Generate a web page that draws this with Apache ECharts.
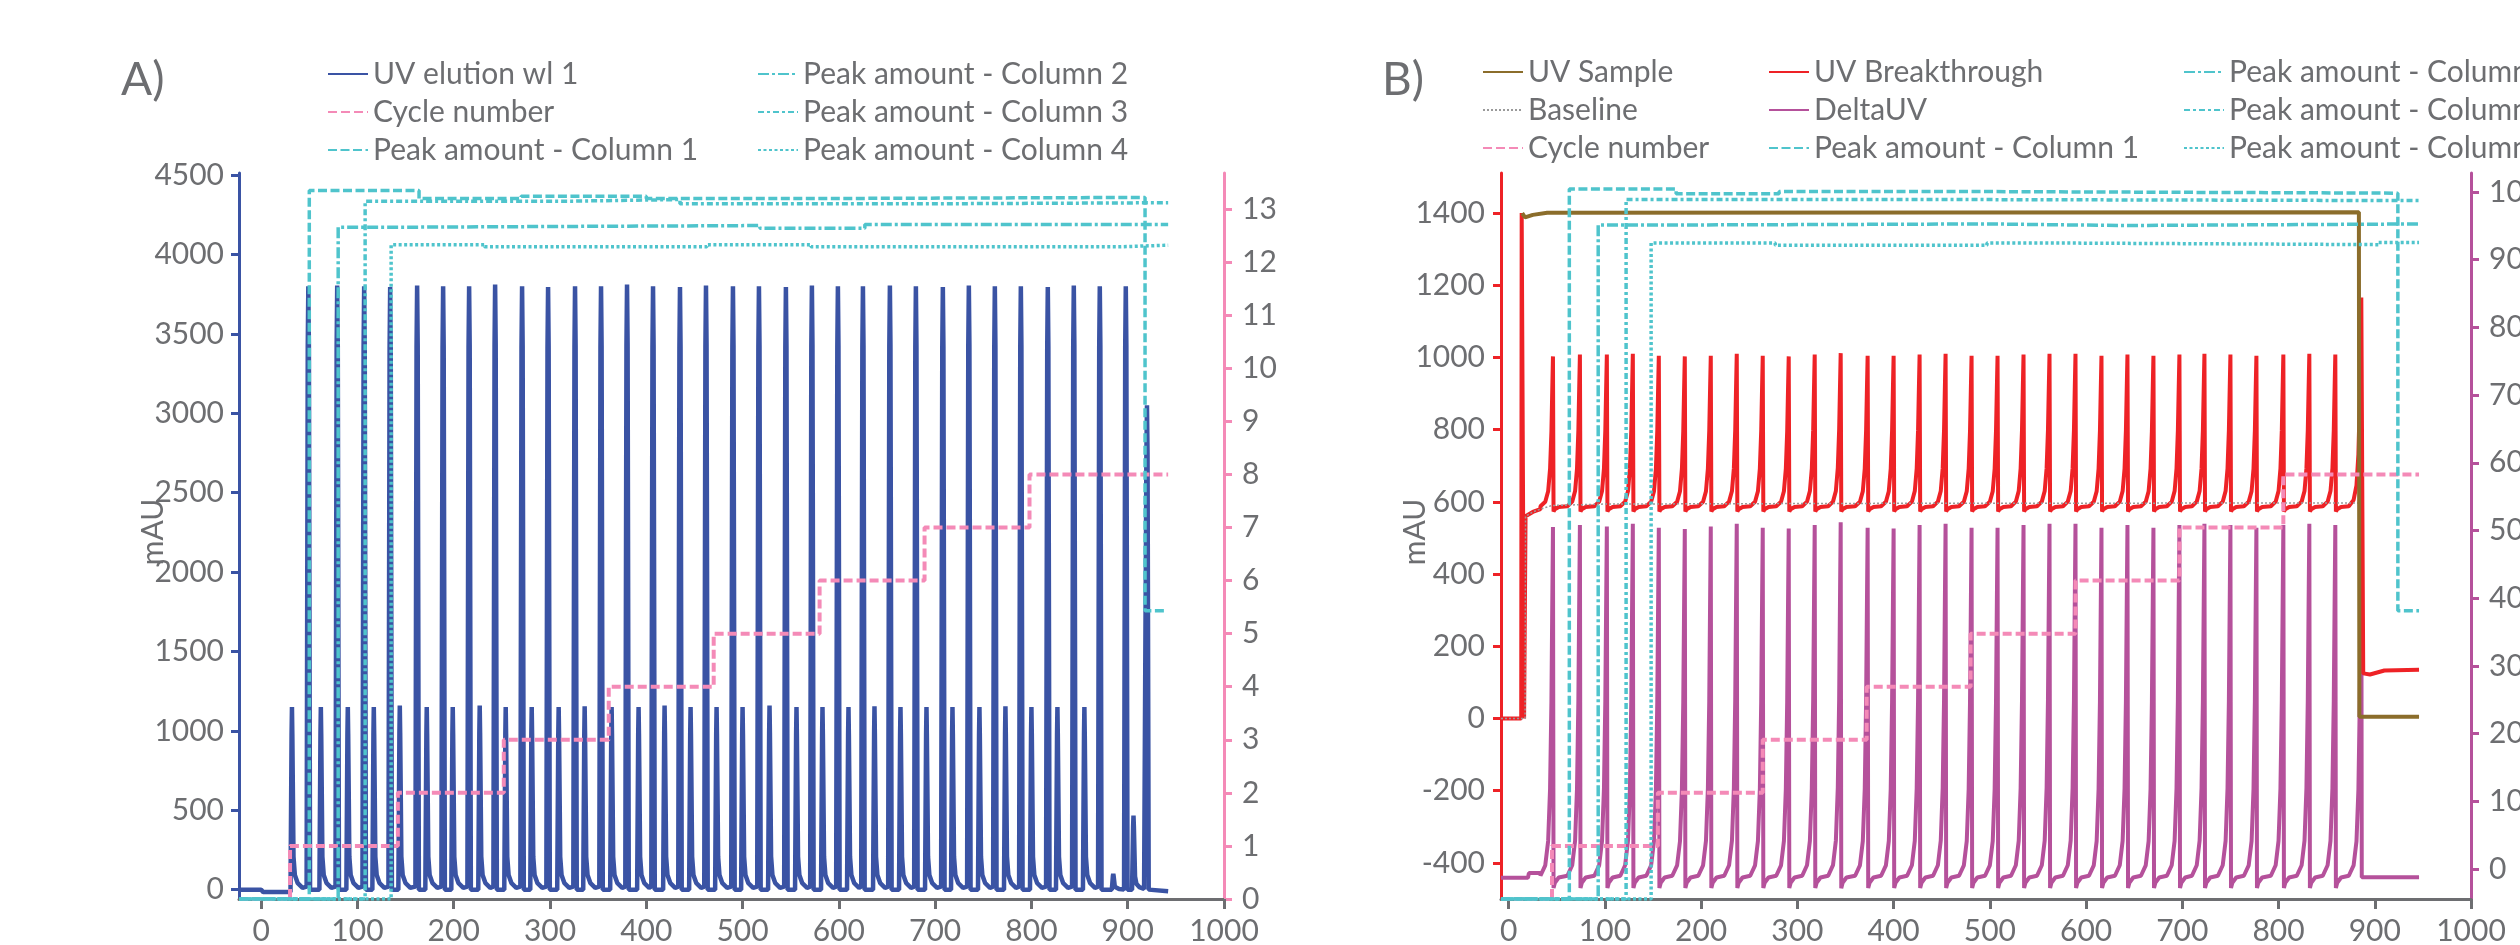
<!DOCTYPE html>
<html>
<head>
<meta charset="utf-8">
<script src="https://cdn.jsdelivr.net/npm/echarts@6/dist/echarts.min.js"></script>
<style>
  html, body { margin: 0; padding: 0; background: #fff; }
  #chart { width: 2520px; height: 945px; }
</style>
</head>
<body>
<div id="chart"></div>
<script>
// ---- Panel A: UV elution ----
var uvBigTimes = [49, 79, 107, 134, 162, 189, 216, 243, 271, 298, 326, 353, 380, 407, 435, 462,
  490, 517, 545, 572, 599, 625, 653, 680, 708, 735, 762, 789, 817, 844, 871, 898, 920];
var uvBigHeights = [3800, 3805, 3800, 3795, 3805, 3800, 3800, 3810, 3800, 3795, 3800, 3800, 3810, 3800, 3795, 3805,
  3800, 3800, 3795, 3805, 3800, 3800, 3805, 3800, 3795, 3805, 3800, 3800, 3795, 3805, 3800, 3800, 3050];
var uvSmallTimes = [32, 62, 90, 117, 144, 172, 199, 227, 254, 281, 309, 336, 364, 392, 419, 446,
  473, 500, 528, 556, 583, 610, 637, 664, 691, 718, 746, 773, 800, 827, 855, 885, 906];
var uvSmallHeights = [1150, 1150, 1150, 1150, 1160, 1150, 1150, 1160, 1150, 1150, 1150, 1155, 1150, 1150, 1160, 1150,
  1150, 1150, 1160, 1150, 1150, 1150, 1155, 1150, 1150, 1150, 1150, 1155, 1150, 1150, 1150, 100, 467];
var uvHead = [[-23, 0], [0, 0], [2, -15], [30.5, -15]];
var uvTail = [[921.8, -10], [942, -10]];

var cycleA = [[-23, 0], [30, 1], [142, 2], [252, 3], [361, 4], [470, 5], [580, 6], [689, 7], [798, 8], [942, 8]];
var peakA1 = [[-23, 0], [50, 13.35], [164, 13.2], [270, 13.24], [400, 13.2], [600, 13.22], [918, 5.43], [941, 5.43]];
var peakA2 = [[-23, 0], [80, 12.66], [162, 12.69], [518, 12.64], [627, 12.71], [942, 12.71]];
var peakA3 = [[-23, 0], [108, 13.15], [325, 13.18], [435, 13.1], [700, 13.12], [942, 13.12]];
var peakA4 = [[-23, 0], [135, 12.33], [232, 12.29], [463, 12.33], [571, 12.29], [893, 12.32], [942, 12.32]];

// ---- Panel B: breakthrough ----
var bTimes = [46, 74, 102, 129, 156, 183, 210, 237, 264, 291, 318, 345, 373, 400, 427, 454,
  481, 508, 535, 562, 589, 616, 643, 670, 697, 723, 750, 777, 805, 832, 859, 886];
var breakHeights = [1003, 1008, 1008, 1010, 1005, 1003, 1005, 1010, 1005, 1003, 1008, 1012, 1005, 1005, 1008, 1010,
  1005, 1005, 1008, 1010, 1010, 1005, 1008, 1005, 1008, 1010, 1008, 1005, 1008, 1010, 1008, 1166];
var deltaHeights = [50.5, 50.8, 50.6, 51, 50.4, 50.2, 50.6, 51, 50.4, 50.3, 50.8, 51.2, 50.4, 50.3, 50.8, 51,
  50.4, 50.4, 50.8, 51, 51, 50.4, 50.8, 50.4, 50.8, 51, 50.8, 50.4, 50.8, 51, 50.8, 50];
var breakBase = 588;
var deltaBase = -1.0;
var breakHead = [[-8, 0], [13, 0], [13.5, 1400], [14.5, 1400], [16, 0], [17, 0], [17.5, 560], [25, 572], [33, 580]];
var breakTail = [[888, 125], [895, 122], [910, 133], [946, 135]];
var deltaHead = [[-8, -1.3], [20, -1.3], [21, -0.6], [33, -0.6]];
var deltaTail = [[886.5, -1.2], [946, -1.2]];
var sampleLine = [[14, 1400], [17, 1388], [25, 1395], [40, 1401], [883.5, 1402], [884, 5], [946, 5]];
var baseLine = [[-8, 0], [17, 0], [17.5, 560], [25, 572], [33, 580], [45, 590], [100, 594], [400, 596], [883.5, 597], [884, 5], [946, 5]];

var cycleB = [[-8, 0], [45, 1], [155, 2], [264, 3], [372, 4], [480, 5], [589, 6], [697, 7], [805, 8], [946, 8]];
var peakB1 = [[-8, 0], [63, 13.38], [174, 13.29], [281, 13.33], [500, 13.3], [924, 5.43], [946, 5.43]];
var peakB2 = [[-8, 0], [93, 12.7], [176, 12.72], [500, 12.69], [637, 12.72], [946, 12.72]];
var peakB3 = [[-8, 0], [122, 13.18], [464, 13.16], [946, 13.16]];
var peakB4 = [[-8, 0], [148, 12.36], [277, 12.32], [497, 12.36], [580, 12.33], [904, 12.37], [946, 12.37]];

// tick labels
var ticksX = [0, 100, 200, 300, 400, 500, 600, 700, 800, 900, 1000];
var ticksA = [0, 500, 1000, 1500, 2000, 2500, 3000, 3500, 4000, 4500];
var ticksCycle = [0, 1, 2, 3, 4, 5, 6, 7, 8, 9, 10, 11, 12, 13];
var ticksB = [-400, -200, 0, 200, 400, 600, 800, 1000, 1200, 1400];
var ticksDelta = [0, 10, 20, 30, 40, 50, 60, 70, 80, 90, 100];

// peak profiles: [time offset, fraction of height above base]
var smallShape = [[-1.5, 0], [-0.4, 0.85], [0, 1], [0.4, 0.85], [1.6, 0.18], [3, 0.08], [6, 0.035], [11, 0.01]];
var bigShape = [[-1.8, 0.005], [-0.6, 0.9], [0, 1], [0.6, 0.9], [1.8, 0]];
var btShape = [[-13, 0], [-8, 0.03], [-5, 0.1], [-3, 0.25], [-1.6, 0.5], [-0.6, 0.82], [0, 1], [0.6, -0.035], [2, -0.02], [6, -0.005]];
var btRise = btShape.slice(0, 7);

function peakLine(head, peaks, tail, base) {
  var pts = head.slice();
  peaks.sort(function (a, b) { return a.t - b.t; });
  peaks.forEach(function (p) {
    p.shape.forEach(function (s) {
      pts.push([p.t + s[0], base + s[1] * (p.h - base)]);
    });
  });
  return pts.concat(tail);
}

var uvPeaks = [];
uvBigTimes.forEach(function (t, i) { uvPeaks.push({ t: t, h: uvBigHeights[i], shape: bigShape }); });
uvSmallTimes.forEach(function (t, i) { uvPeaks.push({ t: t, h: uvSmallHeights[i], shape: smallShape }); });
var uvLine = peakLine(uvHead, uvPeaks, uvTail, 0);

function bPeaks(heights) {
  return bTimes.map(function (t, i) {
    return { t: t, h: heights[i], shape: i === bTimes.length - 1 ? btRise : btShape };
  });
}
var breakLine = peakLine(breakHead, bPeaks(breakHeights), breakTail, breakBase);
var deltaLine = peakLine(deltaHead, bPeaks(deltaHeights), deltaTail, deltaBase);

var gray = '#6d6e71';
var blue = '#3a53a4';
var pink = '#f48ab7';
var cyan = '#4fc4cc';
var red = '#ee2226';
var purple = '#b5519b';
var olive = '#8b6d2b';
var font = 'Lato';

function plain(v) { return String(v); }

function xAxis(grid, min) {
  return {
    type: 'value', gridIndex: grid, min: min, max: 1000,
    axisLine: { onZero: false, lineStyle: { color: gray, width: 3 } },
    axisTick: { customValues: ticksX, length: 10, lineStyle: { width: 3 } },
    axisLabel: { customValues: ticksX, formatter: plain, margin: 17, color: gray, fontSize: 30, fontFamily: font },
    splitLine: { show: false }
  };
}
function yAxis(grid, pos, min, max, color, ticks, margin) {
  return {
    type: 'value', gridIndex: grid, position: pos, min: min, max: max,
    axisLine: { show: true, onZero: false, lineStyle: { color: color, width: 3 } },
    axisTick: { show: true, customValues: ticks, length: 8, lineStyle: { width: 3 } },
    axisLabel: { customValues: ticks, formatter: plain, margin: margin, color: gray, fontSize: 30, fontFamily: font },
    splitLine: { show: false }
  };
}
function line(name, data, x, y, color, width, type, z) {
  return {
    name: name, type: 'line', xAxisIndex: x, yAxisIndex: y, data: data,
    symbol: 'none', showSymbol: false, z: z || 2,
    lineStyle: { color: color, width: width, type: type || 'solid' },
    itemStyle: { color: color }
  };
}
function step(name, data, x, y, color, width, type, z) {
  var s = line(name, data, x, y, color, width, type, z);
  s.step = 'end';
  return s;
}
function legend(left, top, names) {
  return {
    left: left, top: top, orient: 'vertical', itemWidth: 40, itemHeight: 14, itemGap: 8,
    selectedMode: false, data: names,
    itemStyle: { color: 'rgba(0,0,0,0)', borderWidth: 0 },
    textStyle: { color: gray, fontSize: 30, fontFamily: font, lineHeight: 30 }
  };
}

var dash1 = [9, 3.5];
var dash2 = [11, 3, 3, 3];
var dash3 = [6, 3, 3, 3];
var dot4 = [3, 2.5];
var pinkDash = [9, 4];

var chart = echarts.init(document.getElementById('chart'));
chart.setOption({
  animation: false,
  backgroundColor: '#fff',
  grid: [
    { left: 239, top: 173, width: 985, height: 726, outerBoundsMode: 'none' },
    { left: 1501, top: 173, width: 970, height: 726, outerBoundsMode: 'none' }
  ],
  legend: [
    legend(322, 54, ['UV elution wl 1', 'Cycle number', 'Peak amount - Column 1']),
    legend(752, 54, ['Peak amount - Column 2', 'Peak amount - Column 3', 'Peak amount - Column 4']),
    legend(1477, 52, ['UV Sample', 'Baseline', 'Cycle number']),
    legend(1763, 52, ['UV Breakthrough', 'DeltaUV', 'Peak amount - Column 1']),
    legend(2178, 52, ['Peak amount - Column 2', 'Peak amount - Column 3', 'Peak amount - Column 4'])
  ],
  xAxis: [xAxis(0, -23), xAxis(1, -8)],
  yAxis: [
    yAxis(0, 'left', -59, 4513, blue, ticksA, 15),
    yAxis(0, 'right', 0, 13.68, pink, ticksCycle, 18),
    yAxis(1, 'left', -500, 1511, red, ticksB, 16),
    yAxis(1, 'right', -4.43, 102.8, purple, ticksDelta, 18),
    { type: 'value', gridIndex: 1, min: 0, max: 13.68, show: false }
  ],
  graphic: [
    { type: 'text', x: 121, y: 80, style: { text: 'A)', fill: gray, font: '46px Lato', verticalAlign: 'middle' } },
    { type: 'text', x: 1382, y: 80, style: { text: 'B)', fill: gray, font: '46px Lato', verticalAlign: 'middle' } },
    { type: 'text', x: 153, y: 532, rotation: Math.PI / 2, style: { text: 'mAU', fill: gray, font: '30px Lato', align: 'center', verticalAlign: 'middle' } },
    { type: 'text', x: 1415, y: 532, rotation: Math.PI / 2, style: { text: 'mAU', fill: gray, font: '30px Lato', align: 'center', verticalAlign: 'middle' } }
  ],
  series: [
    line('UV elution wl 1', uvLine, 0, 0, blue, 4.5, 'solid', 2),
    step('Cycle number', cycleA, 0, 1, pink, 4, pinkDash, 3),
    step('Peak amount - Column 1', peakA1, 0, 1, cyan, 3.5, dash1, 4),
    step('Peak amount - Column 2', peakA2, 0, 1, cyan, 3.5, dash2, 4),
    step('Peak amount - Column 3', peakA3, 0, 1, cyan, 3.5, dash3, 4),
    step('Peak amount - Column 4', peakA4, 0, 1, cyan, 3.5, dot4, 4),

    line('DeltaUV', deltaLine, 1, 3, purple, 4, 'solid', 2),
    line('UV Breakthrough', breakLine, 1, 2, red, 4, 'solid', 2),
    line('Baseline', baseLine, 1, 2, '#9a9a9a', 1.5, [2, 2], 3),
    line('UV Sample', sampleLine, 1, 2, olive, 4, 'solid', 3),
    step('Cycle number', cycleB, 1, 4, pink, 4, pinkDash, 3),
    step('Peak amount - Column 1', peakB1, 1, 4, cyan, 3.5, dash1, 4),
    step('Peak amount - Column 2', peakB2, 1, 4, cyan, 3.5, dash2, 4),
    step('Peak amount - Column 3', peakB3, 1, 4, cyan, 3.5, dash3, 4),
    step('Peak amount - Column 4', peakB4, 1, 4, cyan, 3.5, dot4, 4)
  ]
});
</script>
</body>
</html>
